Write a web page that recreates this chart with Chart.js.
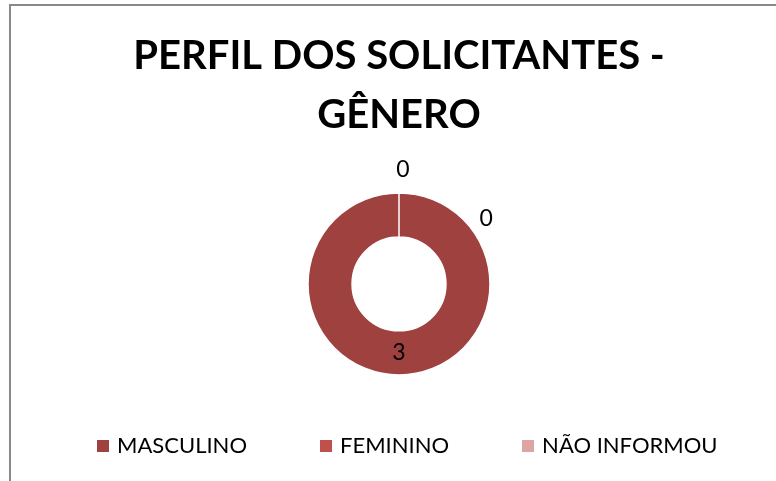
<!DOCTYPE html>
<html><head><meta charset="utf-8">
<script src="https://cdn.jsdelivr.net/npm/chart.js@4"></script>
<style>
html,body{margin:0;padding:0;background:#fff;overflow:hidden;}
#wrap{position:relative;width:776px;height:481px;overflow:hidden;}
#frame{position:absolute;left:9px;top:4px;width:800px;height:500px;border-left:2px solid #898989;border-top:2px solid #898989;pointer-events:none;}
canvas{position:absolute;left:0;top:0;}
#legend{position:absolute;left:97px;top:432px;display:flex;column-gap:73px;font-family:Lato,sans-serif;font-size:22px;color:#000;line-height:26px;white-space:nowrap;}
#legend .item{display:flex;align-items:center;}
#legend .box{width:12px;height:12px;margin-right:8px;margin-top:1px;}
</style></head><body>
<div id="wrap"><canvas id="c" width="776" height="481"></canvas><div id="legend"></div><div id="frame"></div></div>
<script>
const titleLines = ['PERFIL DOS SOLICITANTES -', 'GÊNERO'];
const categories = ['MASCULINO', 'FEMININO', 'NÃO INFORMOU'];
const values = [3, 0, 0];
const colors = ['#9E413F', '#C0504D', '#DDA4A3'];

// where Excel put the labels of the zero-size slices (angle in degrees, gap beyond the ring)
const zeroLabelPlacement = {1: {angle: -37, gap: 18}, 2: {angle: -88, gap: 23}};

const valueLabels = {
  id: 'valueLabels',
  afterDatasetsDraw(chart) {
    const ctx = chart.ctx;
    const meta = chart.getDatasetMeta(0);
    ctx.save();
    ctx.font = '23px Lato';
    ctx.fillStyle = '#000';
    ctx.textAlign = 'center';
    ctx.textBaseline = 'middle';
    meta.data.forEach((arc, i) => {
      const v = values[i];
      let x, y;
      if (v > 0) {
        const p = arc.tooltipPosition();
        x = p.x; y = p.y;
      } else {
        const pl = zeroLabelPlacement[i];
        const a = pl.angle * Math.PI / 180;
        const r = arc.outerRadius + pl.gap;
        x = arc.x + r * Math.cos(a);
        y = arc.y + r * Math.sin(a);
      }
      ctx.fillText(String(v), x, y);
    });
    ctx.restore();
  }
};

function buildLegend(chart) {
  const el = document.getElementById('legend');
  const ds = chart.data.datasets[0];
  el.innerHTML = '';
  chart.data.labels.forEach((lab, i) => {
    const item = document.createElement('div');
    item.className = 'item';
    const box = document.createElement('span');
    box.className = 'box';
    box.style.background = ds.backgroundColor[i];
    const txt = document.createElement('span');
    txt.textContent = lab;
    item.appendChild(box); item.appendChild(txt);
    el.appendChild(item);
  });
}

function draw() {
  Chart.defaults.color = '#000';
  const chart = new Chart(document.getElementById('c'), {
    type: 'doughnut',
    data: {
      labels: categories,
      datasets: [{
        data: values,
        backgroundColor: colors,
        borderColor: '#ffffff',
        borderWidth: 1.5,
        clip: false
      }]
    },
    options: {
      responsive: false,
      devicePixelRatio: 1,
      animation: false,
      radius: 91,
      cutout: '51.6%',
      layout: {padding: {left: 22, right: 0, top: 0, bottom: 87}},
      plugins: {
        title: {
          display: true,
          text: titleLines,
          color: '#000',
          font: {family: 'Lato', weight: 'bold', size: 40, lineHeight: 1.46},
          padding: {top: 27, bottom: 30}
        },
        legend: {display: false},
        tooltip: {enabled: false}
      }
    },
    plugins: [valueLabels]
  });
  buildLegend(chart);
}
if (document.fonts && document.fonts.load) {
  Promise.all([document.fonts.load('bold 40px Lato'), document.fonts.load('22px Lato')]).then(draw, draw);
} else { draw(); }
</script>
</body></html>
